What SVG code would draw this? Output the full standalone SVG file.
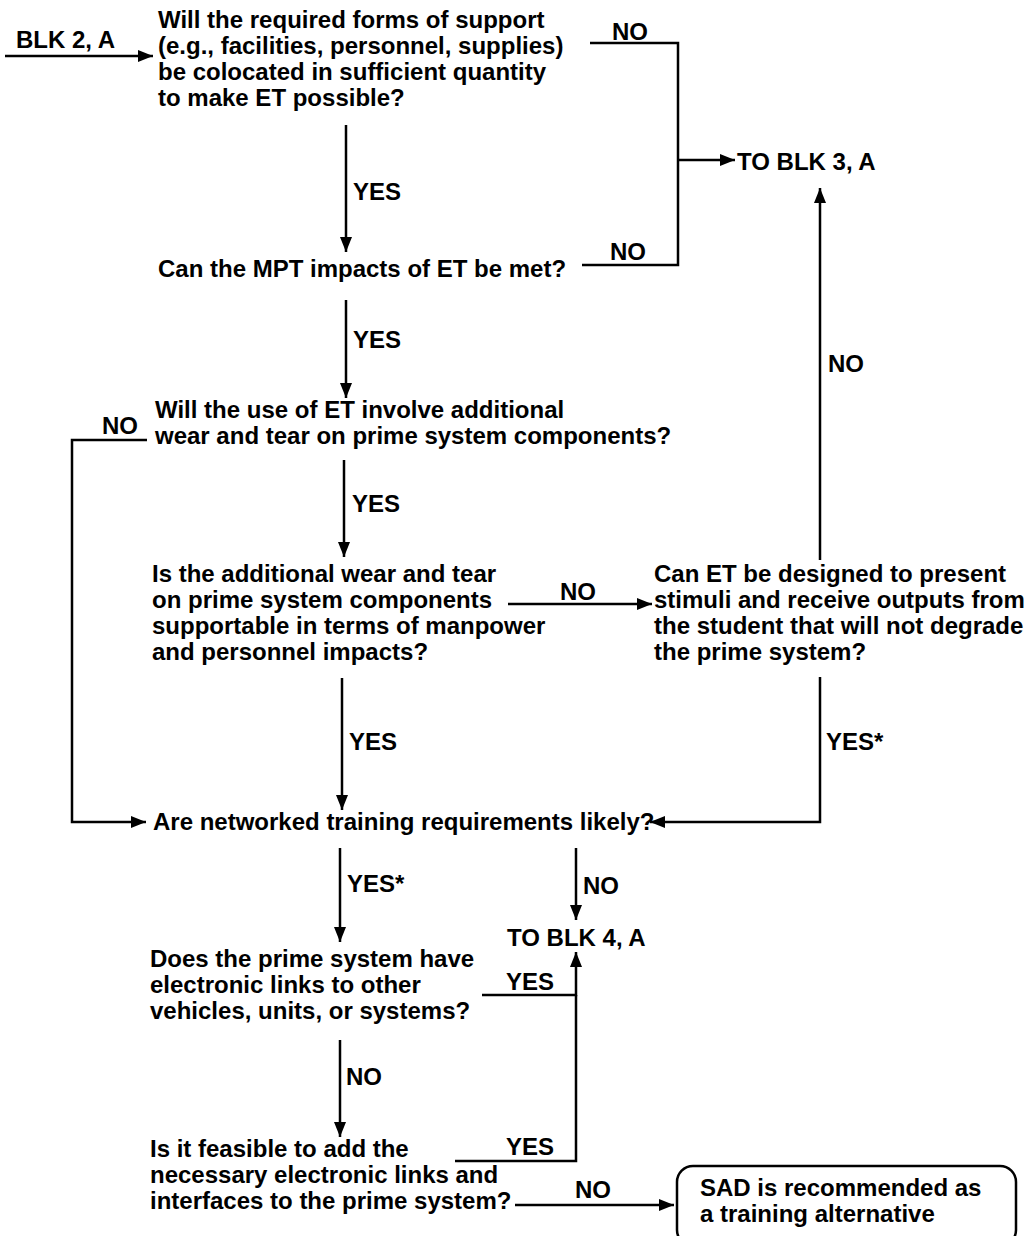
<svg xmlns="http://www.w3.org/2000/svg" width="1026" height="1236" viewBox="0 0 1026 1236">
  <style>
    text { font-family: "Liberation Sans", Arial, sans-serif; font-weight: bold; font-size: 24px; fill: #000; }
    .ln { stroke: #000; stroke-width: 2.5; fill: none; }
    .arr { stroke: #000; stroke-width: 2.5; fill: none; marker-end: url(#head); }
  </style>
  <defs>
    <marker id="head" markerUnits="userSpaceOnUse" markerWidth="16" markerHeight="12" refX="15" refY="6" orient="auto">
      <path d="M0,0 L15,6 L0,12 z" fill="#000"/>
    </marker>
  </defs>
  <rect width="1026" height="1236" fill="#fff"/>

  <!-- decision nodes -->
  <g id="entry">
    <text x="16" y="48">BLK 2, A</text>
  </g>
  <g id="q-colocated">
    <text x="158" y="28">Will the required forms of support</text>
    <text x="158" y="54">(e.g., facilities, personnel, supplies)</text>
    <text x="158" y="80">be colocated in sufficient quantity</text>
    <text x="158" y="106">to make ET possible?</text>
  </g>
  <g id="to-blk3">
    <text x="737" y="170">TO BLK 3, A</text>
  </g>
  <g id="q-mpt">
    <text x="158" y="277">Can the MPT impacts of ET be met?</text>
  </g>
  <g id="q-wear">
    <text x="155" y="418">Will the use of ET involve additional</text>
    <text x="155" y="444">wear and tear on prime system components?</text>
  </g>
  <g id="q-supportable">
    <text x="152" y="582">Is the additional wear and tear</text>
    <text x="152" y="608">on prime system components</text>
    <text x="152" y="634">supportable in terms of manpower</text>
    <text x="152" y="660">and personnel impacts?</text>
  </g>
  <g id="q-design">
    <text x="654" y="582">Can ET be designed to present</text>
    <text x="654" y="608">stimuli and receive outputs from</text>
    <text x="654" y="634">the student that will not degrade</text>
    <text x="654" y="660">the prime system?</text>
  </g>
  <g id="q-networked">
    <text x="153" y="830">Are networked training requirements likely?</text>
  </g>
  <g id="to-blk4">
    <text x="507" y="946">TO BLK 4, A</text>
  </g>
  <g id="q-links">
    <text x="150" y="967">Does the prime system have</text>
    <text x="150" y="993">electronic links to other</text>
    <text x="150" y="1019">vehicles, units, or systems?</text>
  </g>
  <g id="q-feasible">
    <text x="150" y="1157">Is it feasible to add the</text>
    <text x="150" y="1183">necessary electronic links and</text>
    <text x="150" y="1209">interfaces to the prime system?</text>
  </g>
  <g id="sad">
    <rect x="677" y="1166" width="339" height="80" rx="16" ry="16" class="ln"/>
    <text x="700" y="1196">SAD is recommended as</text>
    <text x="700" y="1222">a training alternative</text>
  </g>

  <!-- connectors -->
  <g id="connectors">
    <line class="arr" x1="5" y1="56" x2="153" y2="56"/>

    <polyline class="ln" points="590,43 678,43 678,265 582,265"/>
    <line class="arr" x1="678" y1="160" x2="735" y2="160"/>
    <text x="612" y="40">NO</text>
    <text x="610" y="260">NO</text>

    <line class="arr" x1="346" y1="125" x2="346" y2="252"/>
    <text x="353" y="200">YES</text>

    <line class="arr" x1="346" y1="300" x2="346" y2="398"/>
    <text x="353" y="348">YES</text>

    <polyline class="arr" points="147,440 72,440 72,822 146,822"/>
    <text x="102" y="434">NO</text>

    <line class="arr" x1="344" y1="460" x2="344" y2="557"/>
    <text x="352" y="512">YES</text>

    <line class="arr" x1="508" y1="604" x2="652" y2="604"/>
    <text x="560" y="600">NO</text>

    <line class="arr" x1="820" y1="560" x2="820" y2="188"/>
    <text x="828" y="372">NO</text>

    <polyline class="arr" points="820,677 820,822 650,822"/>
    <text x="826" y="750">YES*</text>

    <line class="arr" x1="342" y1="678" x2="342" y2="810"/>
    <text x="349" y="750">YES</text>

    <line class="arr" x1="340" y1="848" x2="340" y2="942"/>
    <text x="347" y="892">YES*</text>

    <line class="arr" x1="576" y1="848" x2="576" y2="920"/>
    <text x="583" y="894">NO</text>

    <polyline class="arr" points="482,995 576,995 576,952"/>
    <polyline class="ln" points="455,1161 576,1161 576,995"/>
    <text x="506" y="990">YES</text>
    <text x="506" y="1155">YES</text>

    <line class="arr" x1="340" y1="1040" x2="340" y2="1137"/>
    <text x="346" y="1085">NO</text>

    <line class="arr" x1="515" y1="1205" x2="674" y2="1205"/>
    <text x="575" y="1198">NO</text>
  </g>
</svg>
